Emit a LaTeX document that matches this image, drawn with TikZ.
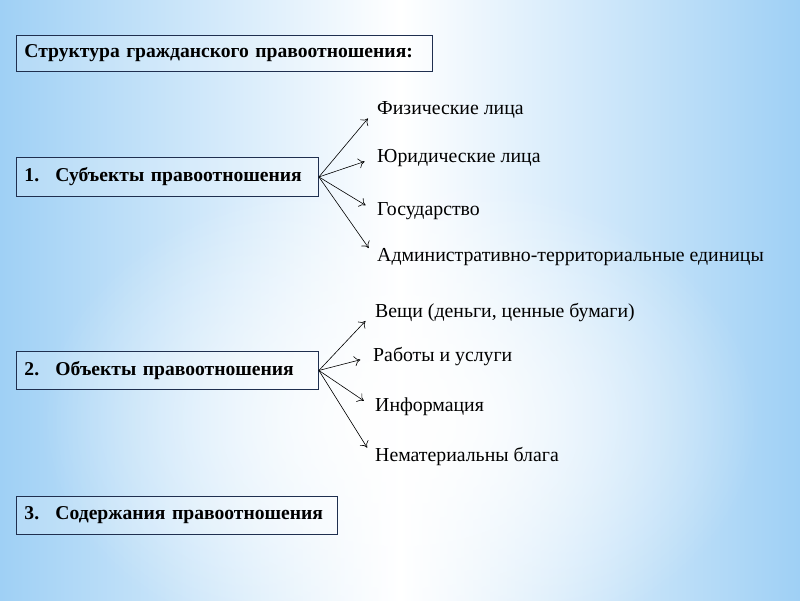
\documentclass[tikz,border=0pt]{standalone}
\usepackage{fontspec}
\setmainfont{Liberation Serif}
\usetikzlibrary{arrows.meta, positioning, fadings}
\tikzset{>={To[length=6pt,width=10pt]}}
\definecolor{bgblue}{HTML}{9FD0F5}
\definecolor{boxline}{HTML}{1F2F4F}
\tikzfading[name=glow, inner color=transparent!0, outer color=transparent!100]
\tikzset{
  box/.style={draw=boxline, line width=0.9pt, fill=white, fill opacity=0.2, text opacity=1,
    anchor=north west, inner xsep=8pt, inner ysep=0pt, align=left,
    font=\bfseries\fontsize{19.6}{22}\selectfont},
  item/.style={anchor=west, inner sep=2pt, font=\fontsize{19.8}{22}\selectfont},
  link/.style={->, line width=0.6pt, shorten >=11pt},
}
\newcommand{\num}[1]{\makebox[31pt][l]{#1}}

\begin{document}
\begin{tikzpicture}[x=1pt, y=-1pt]
  \useasboundingbox (0,0) rectangle (800,600);
  % background
  \shade[left color=bgblue, right color=bgblue, middle color=white] (0,0) rectangle (800,600);
  \fill[white, path fading=glow] (400,420) ellipse (360 and 250);

  % boxes
  \node[box, text width=400pt, minimum height=36pt] (title) at (16,35) {Структура гражданского правоотношения:};
  \node[box, text width=286pt, minimum height=39pt] (subj) at (16,157) {\num{1.}Субъекты правоотношения};
  \node[box, text width=286pt, minimum height=38pt] (obj) at (16,351) {\num{2.}Объекты правоотношения};
  \node[box, text width=305pt, minimum height=38pt] (cont) at (16,496) {\num{3.}Содержания правоотношения};

  % subjects
  \node[item] (fiz) at (375,110) {Физические лица};
  \node[item] (yur) at (375,158) {Юридические лица};
  \node[item] (gos) at (375,211) {Государство};
  \node[item] (adm) at (375,257) {Административно-территориальные единицы};

  % objects
  \node[item] (veshch) at (373,313) {Вещи (деньги, ценные бумаги)};
  \node[item] (rab) at (371,357) {Работы и услуги};
  \node[item] (info) at (373,407) {Информация};
  \node[item] (nemat) at (373,457) {Нематериальны блага};

  \foreach \t in {fiz,yur,gos,adm}
    \draw[link] (subj.east) -- (\t.west);
  \foreach \t in {veshch,rab,info,nemat}
    \draw[link] (obj.east) -- (\t.west);
\end{tikzpicture}
\end{document}
